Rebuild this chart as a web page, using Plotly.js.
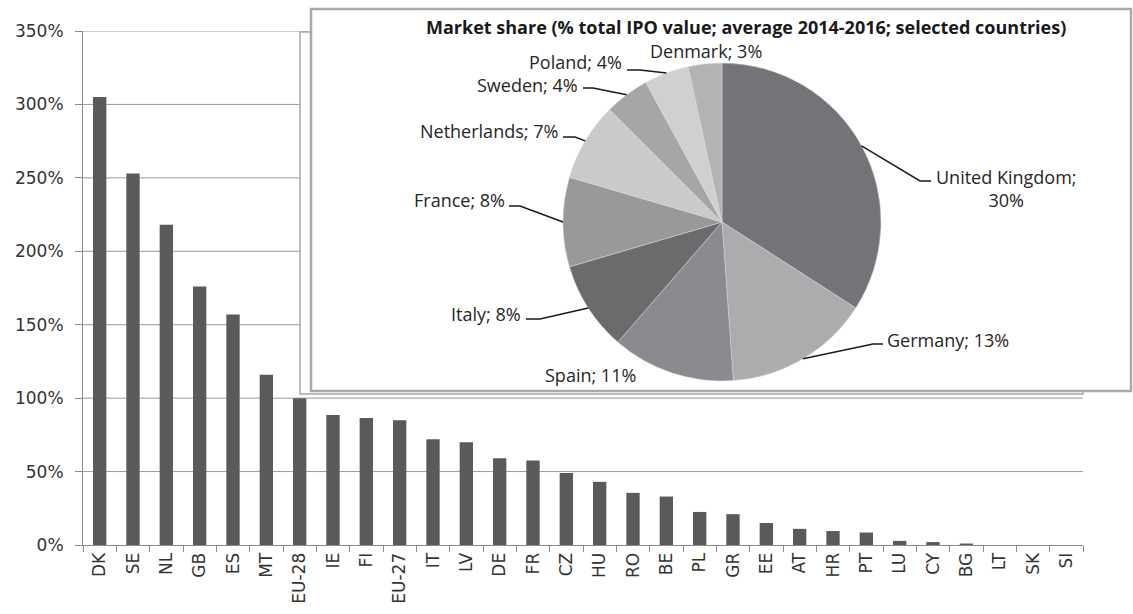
<!DOCTYPE html>
<html>
<head>
<meta charset="utf-8">
<script src="https://cdn.plot.ly/plotly-3.0.1.min.js"></script>
<style>html,body{margin:0;padding:0;background:#fff;}#chart{width:1133px;height:614px;}</style>
</head>
<body>
<div id="chart"></div>
<script>
// ---- Bar chart data (ratio, %) ----
var countries = ["DK","SE","NL","GB","ES","MT","EU-28","IE","FI","EU-27","IT","LV","DE","FR","CZ","HU","RO","BE","PL","GR","EE","AT","HR","PT","LU","CY","BG","LT","SK","SI"];
var barValues = [305,253,218,176,157,116,100,88.5,86.5,85,72,70,59,57.5,49,43,35.5,33,22.5,21,15,11,9.5,8.5,2.8,2,1,0,0,0];
var yTickVals = [0,50,100,150,200,250,300,350];
var yTickText = yTickVals.map(function(v){ return v + "%"; });

// ---- Pie inset data (market share, %) ----
var pieTitle = "Market share (% total IPO value; average 2014-2016; selected countries)";
var pieLabels = ["United Kingdom","Germany","Spain","Italy","France","Netherlands","Sweden","Poland","Denmark"];
var pieValues = [30,13,11,8,8,7,4,4,3];
var pieColors = ["#737477","#abacae","#8a8b8e","#6a6b6d","#98999b","#c9cacc","#a5a6a8","#cfd0d2","#b2b3b5"];

// ---- layout geometry (pixels) ----
var W = 1133, H = 614;
var M = {l:83, r:50, t:31, b:69};
var PW = W - M.l - M.r, PH = H - M.t - M.b;
function px2x(px){ return (px - M.l) / PW; }
function py2y(py){ return (H - M.b - py) / PH; }

var pieDomX = [px2x(563), px2x(881)];
var pieDomY = [py2y(381), py2y(63)];
var pieCx = (563 + 881) / 2, pieCy = (381 + 63) / 2, pieR = 159;

// label placement (pixels): text anchor point, side, and leader elbow
var labelStyle = [
  {tx:935, ty:188, xa:"left",  elbow:[920,181], tail:[931,181], br:true},
  {tx:886, ty:340, xa:"left",  elbow:[873,344], tail:[883,344]},
  {tx:590, ty:375, xa:"center", none:true},
  {tx:522, ty:314, xa:"right", elbow:[540,319], tail:[526,319]},
  {tx:506, ty:200, xa:"right", elbow:[520,206], tail:[509,206]},
  {tx:559, ty:131, xa:"right", elbow:[575,137], tail:[563,137]},
  {tx:579, ty:85,  xa:"right", elbow:[593,88], tail:[583,88]},
  {tx:623, ty:62,  xa:"right", elbow:[640,70], tail:[627,70]},
  {tx:706, ty:51,  xa:"center", none:true}
];

var total = pieValues.reduce(function(a,b){return a+b;},0);
var cum = 0;
var annotations = [], shapes = [];

// horizontal gridlines (below everything, so the inset frame covers them)
yTickVals.forEach(function(v){
  if(v === 0) return;
  shapes.push({type:"line", xref:"paper", yref:"y", layer:"below",
    x0:0, x1:1, y0:v, y1:v, line:{color:"#9a9a9a", width:1}});
});
// inset frames
shapes.push({type:"rect", xref:"paper", yref:"paper", layer:"below",
  x0:px2x(300), x1:px2x(1083), y0:py2y(394), y1:py2y(32),
  fillcolor:"#ffffff", line:{color:"#a6a6a6", width:1.5}});
shapes.push({type:"rect", xref:"paper", yref:"paper", layer:"below",
  x0:px2x(311), x1:px2x(1131), y0:py2y(391), y1:py2y(9),
  fillcolor:"#ffffff", line:{color:"#a9a9a9", width:2.5}});

var labFont = {family:"'Open Sans', Lato, sans-serif", size:18, color:"#262626"};
pieValues.forEach(function(v,i){
  var mid = (cum + v/2) / total * 2 * Math.PI;
  cum += v;
  var tipX = pieCx + pieR * Math.sin(mid), tipY = pieCy - pieR * Math.cos(mid);
  var s = labelStyle[i];
  var txt = pieLabels[i] + ";" + (s.br ? "<br>" : " ") + v + "%";
  annotations.push({xref:"paper", yref:"paper", x:px2x(s.tx), y:py2y(s.ty),
    xanchor:s.xa, yanchor:"middle", align:"center", showarrow:false,
    text:txt, font:labFont, borderpad:0});
  if(!s.none){
    shapes.push({type:"path", xref:"paper", yref:"paper", layer:"above",
      path:"M"+px2x(tipX)+","+py2y(tipY)+" L"+px2x(s.elbow[0])+","+py2y(s.elbow[1])+" L"+px2x(s.tail[0])+","+py2y(s.tail[1]),
      line:{color:"#1a1a1a", width:1.5}});
  }
});

annotations.push({xref:"paper", yref:"paper", x:px2x(746), y:py2y(27),
  xanchor:"center", yanchor:"middle", showarrow:false, borderpad:0,
  text:"<b>"+pieTitle+"</b>", font:{family:"'Open Sans', Lato, sans-serif", size:18, color:"#1a1a1a"}});

var traces = [
  {type:"bar", x:countries, y:barValues, marker:{color:"#5a5a5a"}, hoverinfo:"x+y", showlegend:false},
  {type:"pie", labels:pieLabels, values:pieValues, sort:false, direction:"clockwise", rotation:0,
   marker:{colors:pieColors, line:{color:"#d8d8d8", width:0.5}}, textinfo:"none", hoverinfo:"label+percent",
   domain:{x:pieDomX, y:pieDomY}, showlegend:false}
];

var tickFont = {family:"'DejaVu Sans', Verdana, sans-serif", size:17, color:"#333333"};
var layout = {
  width:W, height:H, margin:M, paper_bgcolor:"#ffffff", plot_bgcolor:"rgba(0,0,0,0)",
  showlegend:false, bargap:0.6,
  xaxis:{type:"category", range:[-0.5, countries.length-0.5], showline:true, linecolor:"#8c8c8c", linewidth:1,
    ticks:"outside", tickson:"boundaries", ticklen:6, tickcolor:"#8c8c8c", tickangle:-90,
    tickfont:tickFont, showgrid:false, zeroline:false, fixedrange:true},
  yaxis:{range:[0,350], tickmode:"array", tickvals:yTickVals, ticktext:yTickText, showline:true, linecolor:"#8c8c8c", linewidth:1,
    ticks:"outside", ticklen:7, tickcolor:"#8c8c8c", showgrid:false, ticklabelstandoff:8,
    zeroline:false, tickfont:tickFont, fixedrange:true},
  shapes:shapes, annotations:annotations
};
Plotly.newPlot("chart", traces, layout, {displayModeBar:false, staticPlot:true});
</script>
</body>
</html>
